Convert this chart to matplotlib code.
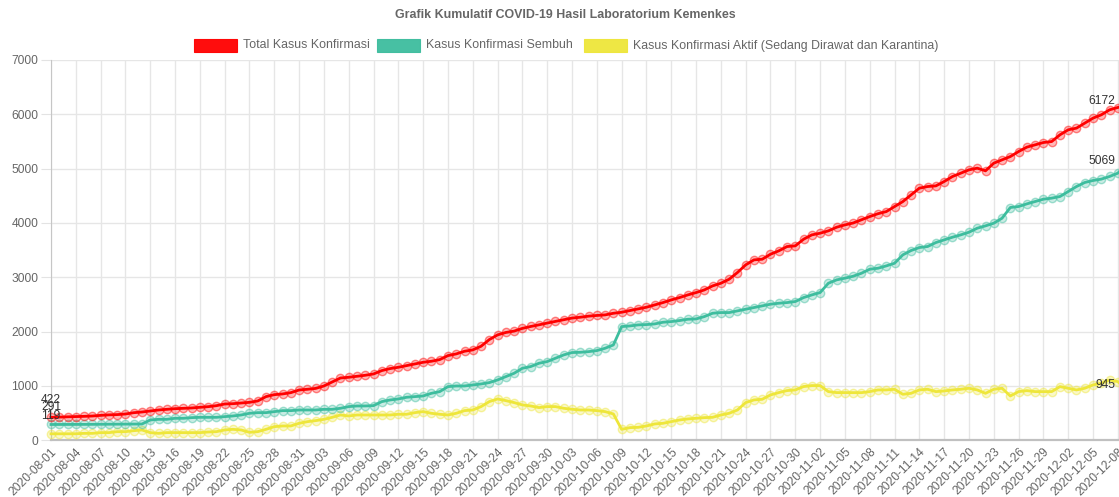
import numpy as np
import pandas as pd
import matplotlib
matplotlib.use('Agg')
import matplotlib.pyplot as plt
from matplotlib.patches import Rectangle

# data harian 2020-08-01 .. 2020-12-09 (titik terakhir jatuh di luar kanvas)
dates = pd.date_range('2020-08-01', '2020-12-09', freq='D').strftime('%Y-%m-%d').tolist()

total = [422, 428, 432, 436, 441, 447, 459, 468, 473, 484, 508, 521, 539, 558, 570, 582, 588, 595, 607, 619,
         637, 668, 674, 687, 699, 724, 804, 840, 853, 877, 926, 939, 955, 1000, 1074, 1147, 1160, 1178, 1197, 1221,
         1283, 1320, 1344, 1375, 1406, 1436, 1455, 1485, 1559, 1590, 1639, 1664, 1731, 1854, 1940, 1985, 2010, 2060, 2095, 2125,
         2158, 2188, 2220, 2250, 2265, 2285, 2298, 2308, 2338, 2357, 2387, 2418, 2449, 2492, 2535, 2584, 2627, 2676, 2719, 2768,
         2842, 2891, 2965, 3088, 3229, 3321, 3333, 3425, 3487, 3566, 3579, 3701, 3781, 3812, 3855, 3922, 3965, 4000, 4060, 4118,
         4171, 4210, 4302, 4394, 4518, 4641, 4671, 4683, 4763, 4855, 4917, 4978, 5009, 4960, 5101, 5162, 5223, 5315, 5396, 5438,
         5481, 5499, 5623, 5715, 5746, 5838, 5930, 5991, 6083, 6125, 6172]

sembuh = [291, 291, 292, 292, 293, 294, 294, 295, 297, 298, 299, 300, 374, 386, 386, 405, 405, 417, 423, 423,
          423, 436, 448, 466, 497, 509, 509, 528, 546, 546, 558, 558, 558, 570, 570, 589, 620, 632, 632, 638,
          712, 742, 761, 792, 804, 816, 865, 896, 988, 1000, 1000, 1019, 1037, 1062, 1111, 1172, 1234, 1326, 1357, 1418,
          1449, 1510, 1572, 1615, 1620, 1632, 1651, 1694, 1755, 2093, 2105, 2124, 2130, 2142, 2173, 2185, 2204, 2228, 2234, 2277,
          2339, 2351, 2351, 2382, 2413, 2443, 2474, 2505, 2523, 2535, 2554, 2627, 2676, 2719, 2891, 2953, 2984, 3020, 3075, 3149,
          3167, 3210, 3259, 3413, 3493, 3548, 3567, 3640, 3689, 3738, 3781, 3830, 3904, 3947, 3996, 4088, 4285, 4303, 4352, 4395,
          4438, 4457, 4487, 4579, 4671, 4745, 4782, 4807, 4856, 4917, 5069]

aktif = [119, 119, 119, 120, 128, 128, 141, 141, 159, 159, 177, 190, 141, 128, 141, 141, 141, 141, 141, 153,
         159, 190, 202, 190, 147, 159, 202, 251, 264, 264, 313, 343, 362, 386, 423, 466, 448, 466, 466, 466,
         466, 466, 479, 479, 509, 528, 497, 479, 466, 497, 546, 558, 620, 712, 761, 730, 694, 651, 632, 602,
         620, 620, 589, 571, 558, 558, 546, 528, 485, 202, 233, 239, 264, 301, 313, 344, 374, 393, 405, 417,
         423, 466, 497, 558, 694, 743, 755, 835, 878, 915, 927, 989, 1007, 1007, 896, 878, 878, 877, 877, 896,
         927, 927, 939, 847, 865, 927, 939, 896, 908, 927, 939, 958, 927, 865, 939, 958, 816, 896, 914, 896,
         896, 896, 988, 958, 927, 958, 1019, 1050, 1111, 1080, 945]

labels = ['Total Kasus Konfirmasi', 'Kasus Konfirmasi Sembuh',
          'Kasus Konfirmasi Aktif (Sedang Dirawat dan Karantina)']
colors = ['#ff0000', '#3dbd9e', '#eee63a']

plt.rcParams['font.family'] = ['Liberation Sans', 'DejaVu Sans']
FS = 8.64  # 12px
FS_HEAD = 8.9
GRAY = '#666666'

W, H = 1119, 497
fig = plt.figure(figsize=(W / 100, H / 100), dpi=100)
ax = fig.add_axes([51 / W, (H - 440.3) / H, (W - 51) / W, (440.3 - 60) / H])

x = np.arange(len(dates))
series = [total, sembuh, aktif]
# dataset pertama digambar paling atas (seperti Chart.js)
for i in reversed(range(3)):
    c = matplotlib.colors.to_rgb(colors[i])
    ax.plot(x, series[i], color=colors[i], lw=2.0, marker='o', ms=6.0,
            mfc=(*c, 0.28), mec=(*c, 0.45), mew=1.0, clip_on=False, zorder=3 + (3 - i))

ax.set_xlim(0, (W - 51) / 8.27)
ax.set_ylim(0, 7000)

xt = list(range(0, len(dates) - 1, 3))
ax.set_xticks(xt)
ax.set_xticklabels([dates[k] for k in xt], rotation=45, ha='right', rotation_mode='anchor',
                   fontsize=FS, color=GRAY)
ax.set_yticks(range(0, 7001, 1000))
ax.set_yticklabels([str(v) for v in range(0, 7001, 1000)], fontsize=FS, color=GRAY)
ax.tick_params(axis='x', length=0, pad=4)
ax.tick_params(axis='y', length=7, pad=2, color='#e3e3e3')

ax.grid(True, color='#e6e6e6', lw=1)
ax.set_axisbelow(True)
for s in ['top', 'right']:
    ax.spines[s].set_visible(False)
ax.spines['left'].set_color('#c6c6c6')
ax.spines['bottom'].set_color('#c0c0c0')
ax.spines['bottom'].set_linewidth(1.6)

# label nilai awal dan akhir
for s in series:
    ax.annotate(str(s[0]), xy=(0, s[0]), xytext=(0, 12.5), textcoords='offset points',
                ha='center', va='center', fontsize=FS, color='#333333', zorder=10, annotation_clip=False)
    ax.annotate(str(s[-1]), xy=(len(dates) - 2, s[-1]), xytext=(-2, 3), textcoords='offset points',
                ha='right', va='center', fontsize=FS, color='#333333', zorder=10, annotation_clip=False)

# judul
fig.text(565 / W, 1 - 15 / H, 'Grafik Kumulatif COVID-19 Hasil Laboratorium Kemenkes',
         ha='center', va='center', fontsize=FS_HEAD, fontweight='bold', color=GRAY)

# legenda manual
box_x = [194, 377, 584]
for bx, lab, c in zip(box_x, labels, colors):
    fig.patches.append(Rectangle((bx / W, 1 - 52 / H), 43 / W, 13 / H, transform=fig.transFigure,
                                 facecolor=c, edgecolor=c, lw=0.8, alpha=0.95))
    fig.text((bx + 49) / W, 1 - 45.5 / H, lab, ha='left', va='center', fontsize=FS_HEAD, color=GRAY)

fig.savefig('out.png', dpi=100)
